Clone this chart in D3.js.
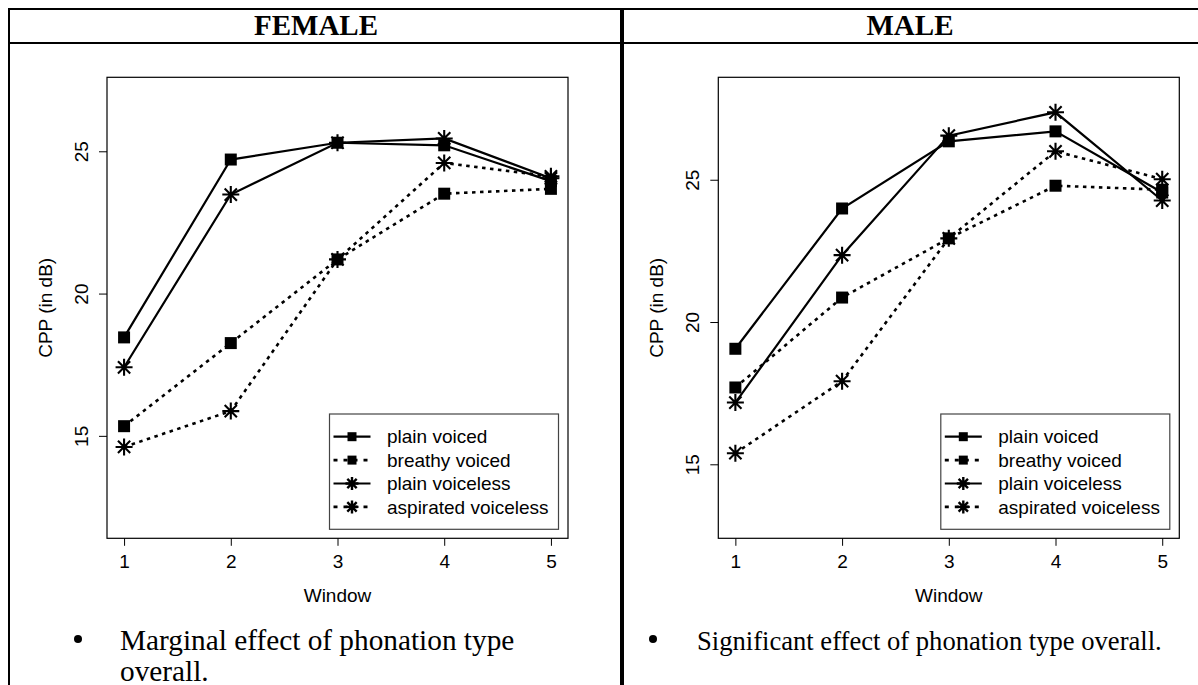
<!DOCTYPE html>
<html lang="en">
<head>
<meta charset="utf-8">
<title>CPP by window</title>
<script src="https://cdn.jsdelivr.net/npm/d3@7"></script>
<style>
  body { margin: 0; background: #fff; }
  .sans { font-family: "Liberation Sans", Arial, sans-serif; }
  .serif { font-family: "Liberation Serif", "Times New Roman", serif; }
</style>
</head>
<body>
<svg id="chart" width="1198" height="685"></svg>
<script>
// data
var windows = [1, 2, 3, 4, 5];
var seriesNames = ["plain voiced", "breathy voiced", "plain voiceless", "aspirated voiceless"];
var xTicks = [1, 2, 3, 4, 5];
var yTicks = [15, 20, 25];

var femalePlainVoiced     = [18.46, 24.71, 25.30, 25.21, 23.95];
var femaleBreathyVoiced   = [15.34, 18.26, 21.20, 23.51, 23.68];
var femalePlainVoiceless  = [17.41, 23.48, 25.30, 25.45, 24.05];
var femaleAspirated       = [14.61, 15.87, 21.20, 24.59, 24.12];

var malePlainVoiced       = [19.06, 23.99, 26.35, 26.70, 24.55];
var maleBreathyVoiced     = [17.70, 20.86, 22.94, 24.79, 24.65];
var malePlainVoiceless    = [17.17, 22.35, 26.55, 27.37, 24.27];
var maleAspirated         = [15.39, 17.92, 22.94, 26.00, 25.02];

var femaleYLim = [12, 27];
var maleYLim = [13, 28];

var headers = ["FEMALE", "MALE"];
var notes = [
  ["Marginal effect of phonation type", "overall."],
  ["Significant effect of phonation type overall."]
];

// line / marker style per series
var dashed = [false, true, false, true];
var marker = ["square", "square", "star", "star"];

var svg = d3.select("#chart");

// table frame
svg.append("line").attr("x1", 8).attr("x2", 1198).attr("y1", 9).attr("y2", 9)
  .attr("stroke", "#000").attr("stroke-width", 2);
svg.append("line").attr("x1", 8).attr("x2", 1198).attr("y1", 43).attr("y2", 43)
  .attr("stroke", "#000").attr("stroke-width", 2);
svg.append("line").attr("x1", 9).attr("x2", 9).attr("y1", 8).attr("y2", 685)
  .attr("stroke", "#000").attr("stroke-width", 2);
svg.append("line").attr("x1", 622).attr("x2", 622).attr("y1", 8).attr("y2", 685)
  .attr("stroke", "#000").attr("stroke-width", 4);

var headerX = [316, 910];
headers.forEach(function(hd, i) {
  svg.append("text").attr("class", "serif")
    .attr("x", headerX[i]).attr("y", 35)
    .attr("text-anchor", "middle")
    .attr("font-size", 29).attr("font-weight", "bold")
    .text(hd);
});

// extend a range by 4% each side like R does
function rExtend(lim) {
  var d = (lim[1] - lim[0]) * 0.04;
  return [lim[0] - d, lim[1] + d];
}

function squarePath(s) {
  return "M" + (-s / 2) + "," + (-s / 2) + "h" + s + "v" + s + "h" + (-s) + "z";
}
function starPath(r) {
  var d = r * 0.72;
  return "M" + (-r) + ",0H" + r + "M0," + (-r) + "V" + r +
    "M" + (-d) + "," + (-d) + "L" + d + "," + d +
    "M" + (-d) + "," + d + "L" + d + "," + (-d);
}
function drawMarker(g, type, x, y, big) {
  if (type === "square") {
    var s = big ? 12 : 9;
    g.append("path").attr("d", squarePath(s))
      .attr("transform", "translate(" + x + "," + y + ")")
      .attr("fill", "#000");
  } else {
    var r = big ? 8.5 : 6.5;
    g.append("path").attr("d", starPath(r))
      .attr("transform", "translate(" + x + "," + y + ")")
      .attr("fill", "none").attr("stroke", "#000").attr("stroke-width", big ? 2.1 : 2.4);
  }
}

var panels = [
  { left: 107, yLim: femaleYLim,
    series: [femalePlainVoiced, femaleBreathyVoiced, femalePlainVoiceless, femaleAspirated] },
  { left: 718.3, yLim: maleYLim,
    series: [malePlainVoiced, maleBreathyVoiced, malePlainVoiceless, maleAspirated] }
];

var plotTop = 77.3, plotW = 461, plotH = 461;

panels.forEach(function(p) {
  var x = d3.scaleLinear().domain(rExtend([1, 5])).range([p.left, p.left + plotW]);
  var y = d3.scaleLinear().domain(rExtend(p.yLim)).range([plotTop + plotH, plotTop]);

  // x axis
  var gx = svg.append("g")
    .attr("transform", "translate(0," + (plotTop + plotH) + ")")
    .call(d3.axisBottom(x).tickValues(xTicks).tickSize(7.5).tickPadding(9)
      .tickFormat(d3.format("d")));
  gx.select(".domain").remove();
  gx.selectAll("line").attr("stroke", "#000");
  gx.selectAll("text").attr("font-size", 19).attr("fill", "#000")
    .attr("font-family", "Liberation Sans, Arial, sans-serif");

  // y axis, labels turned like R's default
  var gy = svg.append("g")
    .attr("transform", "translate(" + p.left + ",0)")
    .call(d3.axisLeft(y).tickValues(yTicks).tickSize(8).tickFormat(d3.format("d")));
  gy.select(".domain").remove();
  gy.selectAll("line").attr("stroke", "#000");
  gy.selectAll("text")
    .attr("font-size", 19).attr("fill", "#000")
    .attr("font-family", "Liberation Sans, Arial, sans-serif")
    .attr("text-anchor", "middle")
    .attr("transform", "rotate(-90)")
    .attr("x", 0).attr("y", -26).attr("dy", "0.35em");

  // plot box
  svg.append("rect").attr("x", p.left).attr("y", plotTop).attr("width", plotW).attr("height", plotH)
    .attr("fill", "none").attr("stroke", "#000").attr("stroke-width", 1.2);

  // axis titles
  svg.append("text").attr("class", "sans")
    .attr("x", p.left + plotW / 2).attr("y", 602)
    .attr("text-anchor", "middle").attr("font-size", 19)
    .text("Window");
  svg.append("text").attr("class", "sans")
    .attr("transform", "translate(" + (p.left - 62) + "," + (plotTop + plotH / 2) + ") rotate(-90)")
    .attr("text-anchor", "middle").attr("dy", "0.35em").attr("font-size", 19)
    .text("CPP (in dB)");

  // series
  var line = d3.line()
    .x(function(d, i) { return x(windows[i]); })
    .y(function(d) { return y(d); });
  var g = svg.append("g");
  p.series.forEach(function(vals, si) {
    g.append("path").datum(vals).attr("d", line)
      .attr("fill", "none").attr("stroke", "#000").attr("stroke-width", dashed[si] ? 2.6 : 2.2)
      .attr("stroke-dasharray", dashed[si] ? "3.5,4.5" : null);
  });
  p.series.forEach(function(vals, si) {
    vals.forEach(function(v, i) {
      drawMarker(g, marker[si], x(windows[i]), y(v), true);
    });
  });

  // legend
  var lw = 229, lh = 115.3;
  var lx = p.left + plotW - 9.5 - lw, ly = plotTop + plotH - 9 - lh;
  var lg = svg.append("g").attr("transform", "translate(" + lx + "," + ly + ")");
  lg.append("rect").attr("width", lw).attr("height", lh)
    .attr("fill", "#fff").attr("stroke", "#444").attr("stroke-width", 1.2);
  seriesNames.forEach(function(name, si) {
    var ry = 22.7 + si * 23.4;
    lg.append("line").attr("x1", 4).attr("x2", 41).attr("y1", ry).attr("y2", ry)
      .attr("stroke", "#000").attr("stroke-width", dashed[si] ? 2.6 : 2.2)
      .attr("stroke-dasharray", dashed[si] ? "4,6" : null);
    drawMarker(lg, marker[si], 22.5, ry, false);
    lg.append("text").attr("class", "sans")
      .attr("x", 57.5).attr("y", ry).attr("dy", "0.35em")
      .attr("font-size", 19).text(name);
  });
});

// notes under each chart
var bulletX = [78, 653], textX = [120, 697], noteSize = [29.3, 26.6];
notes.forEach(function(lines, i) {
  svg.append("circle").attr("cx", bulletX[i]).attr("cy", 639).attr("r", 4).attr("fill", "#000");
  lines.forEach(function(t, li) {
    svg.append("text").attr("class", "serif")
      .attr("x", textX[i]).attr("y", 650 + li * 31)
      .attr("font-size", noteSize[i]).text(t);
  });
});
</script>
</body>
</html>
